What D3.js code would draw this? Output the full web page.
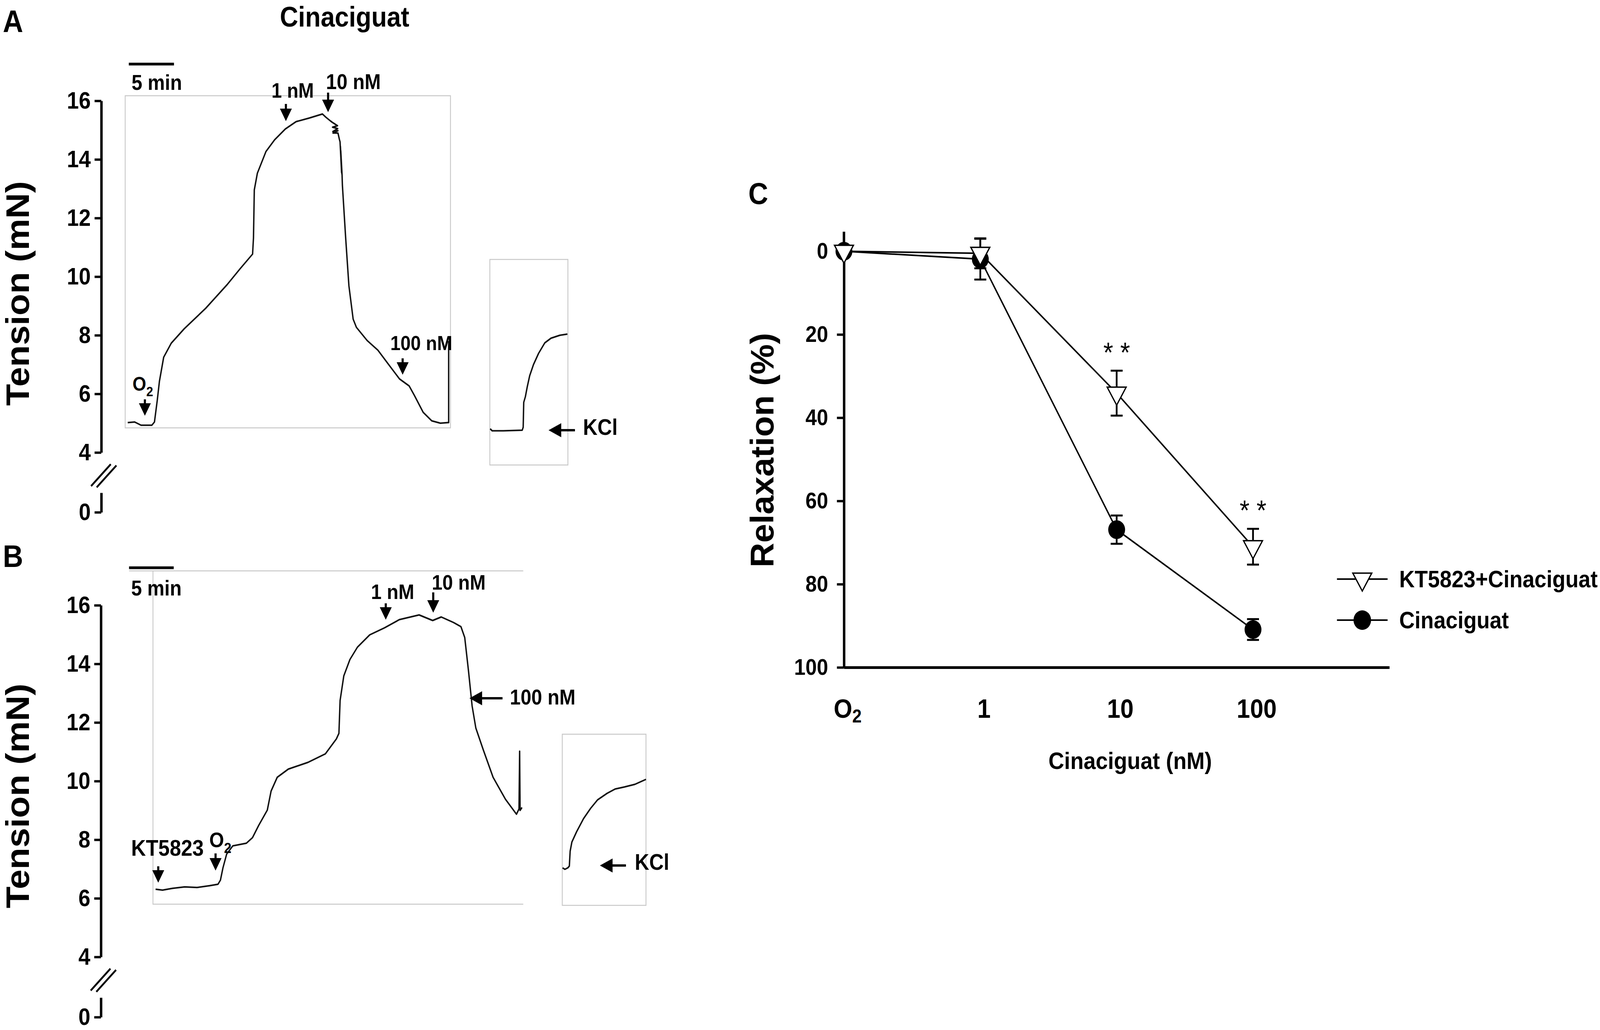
<!DOCTYPE html>
<html>
<head>
<meta charset="utf-8">
<script src="https://cdnjs.cloudflare.com/ajax/libs/d3/7.8.5/d3.min.js"></script>
<style>
  html, body { margin: 0; padding: 0; background: #fff; overflow: hidden; }
  svg { display: block; }
  text { font-family: "Liberation Sans", Arial, sans-serif; font-weight: bold; fill: #000; }
</style>
</head>
<body>
<div id="figure"></div>
<script>
// ---- data ----
const tensionTicks = [4, 6, 8, 10, 12, 14, 16];

// panel A trace (time in min, tension in mN)
const traceATime = [0.28, 1.05, 1.76, 2.95, 3.24, 3.55, 3.79, 4.26, 5.10, 6.53, 8.91, 11.29, 12.72, 14.10,
  14.20, 14.29, 14.63, 15.58, 16.54, 17.73, 18.92, 20.35, 21.83, 22.21, 22.73,
  22.9, 23.5, 22.95, 23.52, 22.98, 23.55, 23.0, 23.55, 23.71,
  23.78, 23.95, 23.82, 23.98, 23.86, 24.0, 24.04, 24.40, 24.76, 25.23, 25.59, 26.78, 27.97, 29.16,
  30.36, 31.43, 32.02, 32.98, 33.93, 34.88, 35.72, 35.8, 35.8];
const traceATension = [5.02, 5.04, 4.93, 4.93, 5.04, 5.78, 6.43, 7.25, 7.73, 8.22, 8.92, 9.73, 10.27, 10.77,
  11.33, 12.96, 13.53, 14.27, 14.67, 15.04, 15.29, 15.41, 15.55, 15.44, 15.31,
  15.27, 15.15, 15.1, 15.05, 14.95, 14.98, 14.9, 14.9, 14.68,
  14.6, 13.55, 14.45, 13.5, 14.3, 13.5, 13.12, 11.33, 9.69, 8.55, 8.27, 7.82, 7.49, 7.00,
  6.51, 6.27, 5.94, 5.37, 5.08, 5.00, 5.02, 5.02, 7.8];

// panel A KCl inset
const insetATime = [0.04, 0.25, 1.49, 3.58, 3.69, 3.75, 3.93, 4.14, 4.41, 4.83, 5.39, 6.08, 6.77, 7.75, 8.58];
const insetATension = [4.81, 4.74, 4.74, 4.76, 4.86, 5.71, 5.90, 6.24, 6.62, 7.00, 7.38, 7.74, 7.90, 8.00, 8.04];

// panel B trace
const traceBTime = [0.29, 1.06, 2.15, 3.51, 4.88, 6.25, 7.2, 7.47, 7.75, 8.16, 8.84, 10.34, 11.02, 11.71,
  12.66, 13.08, 13.76, 14.99, 17.17, 19.09, 20.31, 20.59, 20.72, 21.13, 21.81, 22.64, 24.0, 25.64, 27.28,
  29.47, 30.97, 31.92, 33.29, 34.1, 34.52, 34.93, 35.34, 35.75, 36.57, 37.66, 39.03, 40.25, 40.53, 40.6,
  40.65, 40.86];
const traceBTension = [6.31, 6.28, 6.34, 6.39, 6.37, 6.43, 6.48, 6.62, 7.04, 7.51, 7.79, 7.88, 8.07, 8.49,
  9.01, 9.66, 10.13, 10.41, 10.64, 10.93, 11.44, 11.63, 12.75, 13.59, 14.15, 14.57, 14.99, 15.23, 15.51,
  15.67, 15.48, 15.60, 15.41, 15.27, 14.90, 13.78, 12.56, 11.81, 11.07, 10.13, 9.38, 8.87, 9.05, 11.02,
  9.0, 9.1];

// panel B KCl inset
const insetBTime = [0.03, 0.29, 0.61, 0.78, 0.87, 1.06, 1.58, 2.35, 3.13, 3.9, 4.94, 5.84, 6.87, 8.03, 9.25];
const insetBTension = [7.04, 6.99, 7.04, 7.10, 7.61, 7.92, 8.27, 8.72, 9.07, 9.36, 9.58, 9.73, 9.80, 9.89, 10.06];

// panel C concentration-response
const concLabels = ["O2", "1", "10", "100"];
const relaxTicks = [0, 20, 40, 60, 80, 100];
const ktMean = [0, 0.5, 34.1, 71.0];
const ktSem = [0, 3.6, 5.4, 4.3];
const cinMean = [0, 1.9, 66.9, 90.9];
const cinSem = [0, 4.9, 3.4, 2.5];
const starLabels = ["", "", "* *", "* *"];
const seriesNames = ["KT5823+Cinaciguat", "Cinaciguat"];

// ---- helpers ----
// the figure is laid out on a 4550 x 2636 grid and stretched to the window
const svg = d3.select("#figure").append("svg")
  .attr("viewBox", "0 0 4550 2636")
  .attr("preserveAspectRatio", "none")
  .style("width", "100vw").style("height", "100vh");

function downArrow(g, x, yTop, yTip) {
  g.append("line").attr("x1", x).attr("x2", x).attr("y1", yTop).attr("y2", yTip - 25)
    .attr("stroke", "#000").attr("stroke-width", 6);
  g.append("path").attr("d", `M${x - 17},${yTip - 32}L${x + 17},${yTip - 32}L${x},${yTip}Z`).attr("fill", "#000");
}

function leftArrow(g, xTip, y, xTail) {
  g.append("line").attr("x1", xTip + 25).attr("x2", xTail).attr("y1", y).attr("y2", y)
    .attr("stroke", "#000").attr("stroke-width", 6);
  g.append("path").attr("d", `M${xTip},${y}L${xTip + 36},${y - 18}L${xTip + 36},${y + 18}Z`).attr("fill", "#000");
}

function oxygenLabel(g, x, y, size) {
  const t = g.append("text").attr("x", x).attr("y", y).style("font-size", size + "px").text("O");
  t.append("tspan").attr("dy", size * 0.28).style("font-size", (size * 0.7) + "px").text("2");
  return t;
}

function tensionAxis(g, y, axisX, zeroY, labelCenter) {
  const ax = g.append("g").attr("transform", `translate(${axisX},0)`)
    .call(d3.axisLeft(y).tickValues(tensionTicks).tickSize(19).tickSizeOuter(0).tickPadding(11));
  ax.select(".domain").attr("stroke-width", 7);
  ax.selectAll(".tick line").attr("stroke-width", 6);
  ax.selectAll(".tick text").style("font-size", "61px");

  // broken axis down to 0
  const yZero = d3.scaleLinear().domain([0, 1]).range([zeroY, zeroY - 50]);
  const az = g.append("g").attr("transform", `translate(${axisX},0)`)
    .call(d3.axisLeft(yZero).tickValues([0]).tickFormat(d3.format("d"))
      .tickSize(19).tickSizeOuter(0).tickPadding(11));
  az.select(".domain").attr("stroke-width", 7);
  az.selectAll(".tick line").attr("stroke-width", 6);
  az.selectAll(".tick text").style("font-size", "61px");

  const b = y(4) + 60;
  [0, 16].forEach(o => {
    g.append("line").attr("x1", axisX - 29 + o).attr("y1", b + 26 + o * 0.2)
      .attr("x2", axisX + 27 + o).attr("y2", b - 30 + o * 0.2)
      .attr("stroke", "#000").attr("stroke-width", 5);
  });

  g.append("text").attr("transform", `translate(82,${labelCenter})rotate(-90)`)
    .attr("text-anchor", "middle").style("font-size", "92px")
    .attr("textLength", 575).attr("lengthAdjust", "spacingAndGlyphs")
    .text("Tension (mN)");
}

function trace(g, times, values, x, y) {
  g.append("path").datum(d3.zip(times, values))
    .attr("fill", "none").attr("stroke", "#111").attr("stroke-width", 4)
    .attr("stroke-linejoin", "round")
    .attr("d", d3.line().x(d => x(d[0])).y(d => y(d[1])));
}

function greyBox(g, x0, x1, y0, y1) {
  g.append("rect").attr("x", x0).attr("y", y0).attr("width", x1 - x0).attr("height", y1 - y0)
    .attr("fill", "none").attr("stroke", "#c8c8c8").attr("stroke-width", 2.5);
}

// ---- panel A ----
const gA = svg.append("g");
const yA = d3.scaleLinear().domain([4, 16]).range([1158, 258]);
const tA = d3.scaleLinear().domain([0, 36]).range([356, 1281]);
const tAi = d3.scaleLinear().domain([0, 8.64]).range([1393, 1615]);

gA.append("text").attr("x", 8).attr("y", 82).style("font-size", "80px").text("A");
gA.append("text").attr("x", 980).attr("y", 68).attr("text-anchor", "middle")
  .style("font-size", "72px").text("Cinaciguat");

tensionAxis(gA, yA, 288, 1311, 751);
greyBox(gA, 356, 1281, 245, 1095);
greyBox(gA, 1393, 1615, 664, 1190);
trace(gA, traceATime, traceATension, tA, yA);
trace(gA, insetATime, insetATension, tAi, yA);

gA.append("line").attr("x1", tA(0.4)).attr("x2", tA(5.4)).attr("y1", 164).attr("y2", 164)
  .attr("stroke", "#000").attr("stroke-width", 7);
gA.append("text").attr("x", 374).attr("y", 230).style("font-size", "55px").text("5 min");

gA.append("text").attr("x", 772).attr("y", 250).style("font-size", "53px").text("1 nM");
downArrow(gA, 813, 266, 310);
gA.append("text").attr("x", 927).attr("y", 228).style("font-size", "55px").text("10 nM");
downArrow(gA, 933, 237, 287);
gA.append("text").attr("x", 1110).attr("y", 896).style("font-size", "52px").text("100 nM");
downArrow(gA, 1145, 917, 959);
oxygenLabel(gA, 377, 1000, 50);
downArrow(gA, 412, 1022, 1064);
leftArrow(gA, 1560, 1101, 1635);
gA.append("text").attr("x", 1658).attr("y", 1113).style("font-size", "57px").text("KCl");

// ---- panel B ----
const gB = svg.append("g");
const yB = d3.scaleLinear().domain([4, 16]).range([2449, 1549]);
const tB = d3.scaleLinear().domain([0, 41]).range([435, 1488]);
const tBi = d3.scaleLinear().domain([0, 9.25]).range([1599, 1837]);

gB.append("text").attr("x", 8).attr("y", 1451).style("font-size", "80px").text("B");
tensionAxis(gB, yB, 287, 2603, 2037);

gB.append("path")
  .attr("d", `M367,1461H1488M435,1461V2314H1488`)
  .attr("fill", "none").attr("stroke", "#c8c8c8").attr("stroke-width", 2.5);
greyBox(gB, 1599, 1837, 1879, 2317);
trace(gB, traceBTime, traceBTension, tB, yB);
trace(gB, insetBTime, insetBTension, tBi, yB);

gB.append("line").attr("x1", 367).attr("x2", 494).attr("y1", 1453).attr("y2", 1453)
  .attr("stroke", "#000").attr("stroke-width", 7);
gB.append("text").attr("x", 373).attr("y", 1524).style("font-size", "55px").text("5 min");

gB.append("text").attr("x", 373).attr("y", 2190).style("font-size", "58px").text("KT5823");
downArrow(gB, 450, 2217, 2259);
oxygenLabel(gB, 595, 2168, 54);
downArrow(gB, 613, 2184, 2228);
gB.append("text").attr("x", 1055).attr("y", 1533).style("font-size", "54px").text("1 nM");
downArrow(gB, 1097, 1544, 1586);
gB.append("text").attr("x", 1228).attr("y", 1509).style("font-size", "54px").text("10 nM");
downArrow(gB, 1232, 1516, 1568);
leftArrow(gB, 1335, 1787, 1429);
gB.append("text").attr("x", 1450).attr("y", 1803).style("font-size", "55px").text("100 nM");
leftArrow(gB, 1706, 2215, 1780);
gB.append("text").attr("x", 1805).attr("y", 2226).style("font-size", "57px").text("KCl");

// ---- panel C ----
const gC = svg.append("g");
const xC = d3.scaleLinear().domain([0, 4]).range([2400, 3951]);
const yC = d3.scaleLinear().domain([0, 100]).range([643, 1708]);

gC.append("text").attr("x", 2128).attr("y", 522).style("font-size", "78px").text("C");

const axY = gC.append("g").attr("transform", "translate(2400,0)")
  .call(d3.axisLeft(yC).tickValues(relaxTicks).tickSize(20).tickSizeOuter(0).tickPadding(25));
axY.select(".domain").attr("stroke-width", 7);
axY.selectAll(".tick line").attr("stroke-width", 6);
axY.selectAll(".tick text").style("font-size", "58px");
gC.append("line").attr("x1", 2400).attr("x2", 2400).attr("y1", yC(-4.7)).attr("y2", yC(0))
  .attr("stroke", "#000").attr("stroke-width", 7);

const axX = gC.append("g").attr("transform", `translate(0,${yC(100)})`)
  .call(d3.axisBottom(xC).tickValues([0, 1, 2, 3]).tickSize(0).tickSizeOuter(0).tickPadding(81)
    .tickFormat(i => concLabels[i]));
axX.select(".domain").attr("stroke-width", 7);
axX.selectAll(".tick text").style("font-size", "68px").attr("x", 10);
axX.selectAll(".tick text").filter(i => concLabels[i] === "O2").each(function () {
  const t = d3.select(this).text("O");
  t.append("tspan").attr("dy", "0.25em").style("font-size", "48px").text("2");
});

gC.append("text").attr("x", 3214).attr("y", 1968).attr("text-anchor", "middle")
  .style("font-size", "62px").text("Cinaciguat (nM)");
gC.append("text").attr("transform", "translate(2200,1152)rotate(-90)")
  .attr("text-anchor", "middle").style("font-size", "92px")
  .attr("textLength", 600).attr("lengthAdjust", "spacingAndGlyphs")
  .text("Relaxation (%)");

const idx = d3.range(concLabels.length);
const relaxLine = d3.line().x(i => xC(i));

gC.append("path").datum(idx).attr("fill", "none").attr("stroke", "#000").attr("stroke-width", 4)
  .attr("d", relaxLine.y(i => yC(cinMean[i])));
gC.append("path").datum(idx).attr("fill", "none").attr("stroke", "#000").attr("stroke-width", 4)
  .attr("d", relaxLine.y(i => yC(ktMean[i])));

function errorBars(mean, sem) {
  const eb = gC.append("g").attr("stroke", "#000").attr("stroke-width", 5);
  idx.filter(i => sem[i] > 0).forEach(i => {
    const x = xC(i), y0 = yC(mean[i] - sem[i]), y1 = yC(mean[i] + sem[i]);
    eb.append("line").attr("x1", x).attr("x2", x).attr("y1", y0).attr("y2", y1);
    eb.append("line").attr("x1", x - 17).attr("x2", x + 17).attr("y1", y0).attr("y2", y0);
    eb.append("line").attr("x1", x - 17).attr("x2", x + 17).attr("y1", y1).attr("y2", y1);
  });
}
errorBars(cinMean, cinSem);
errorBars(ktMean, ktSem);

const triW = 54, triH = 46;
const triPath = `M${-triW / 2},${-triH / 3}L${triW / 2},${-triH / 3}L0,${2 * triH / 3}Z`;

gC.selectAll(".cin").data(idx).enter().append("circle")
  .attr("cx", i => xC(i)).attr("cy", i => yC(cinMean[i])).attr("r", 24).attr("fill", "#000");
gC.selectAll(".kt").data(idx).enter().append("path")
  .attr("transform", i => `translate(${xC(i)},${yC(ktMean[i])})`)
  .attr("d", triPath).attr("fill", "#fff").attr("stroke", "#000").attr("stroke-width", 3.5);

gC.selectAll(".star").data(idx.filter(i => starLabels[i])).enter().append("text")
  .attr("x", i => xC(i)).attr("y", i => yC(ktMean[i] - ktSem[i]) - 22)
  .attr("text-anchor", "middle").style("font-size", "72px").style("font-weight", "normal")
  .text(i => starLabels[i]);

// legend
const legY = [1482, 1587];
seriesNames.forEach((name, k) => {
  gC.append("line").attr("x1", 3802).attr("x2", 3946).attr("y1", legY[k]).attr("y2", legY[k])
    .attr("stroke", "#000").attr("stroke-width", 4);
  if (k === 0) {
    gC.append("path").attr("transform", `translate(3874,${legY[k]})`).attr("d", triPath)
      .attr("fill", "#fff").attr("stroke", "#000").attr("stroke-width", 3.5);
  } else {
    gC.append("circle").attr("cx", 3874).attr("cy", legY[k]).attr("r", 25).attr("fill", "#000");
  }
  gC.append("text").attr("x", 3979).attr("y", legY[k] + 21).style("font-size", "61px").text(name);
});
</script>
</body>
</html>
